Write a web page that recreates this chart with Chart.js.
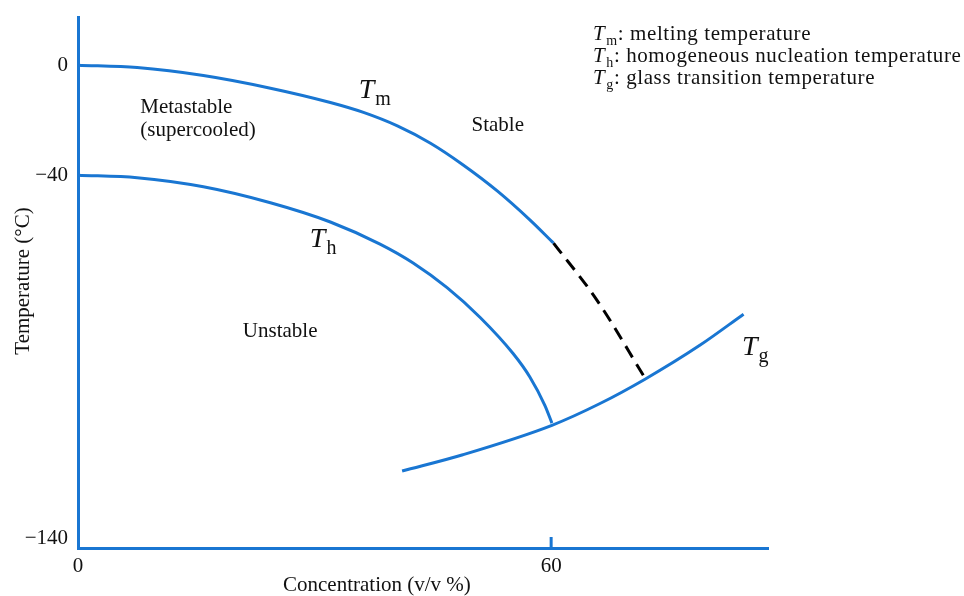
<!DOCTYPE html>
<html>
<head>
<meta charset="utf-8">
<title>State diagram</title>
<script src="https://cdn.jsdelivr.net/npm/chart.js@4/dist/chart.umd.min.js"></script>
<style>
  html, body { margin: 0; padding: 0; background: #fff; }
  #wrap { width: 964px; height: 596px; }
</style>
</head>
<body>
<div id="wrap"><canvas id="chart" width="964" height="596"></canvas></div>
<script>
(function () {
    'use strict';

    // values: concentration (v/v %) and temperature (°C)
    var tmConc = [0, 7.5, 15.9, 24.4, 32.0, 36.2, 40.5, 44.7, 48.8, 53.2, 57.3, 60.3];
    var tmTemp = [0, -0.9, -3.8, -8.4, -13.6, -17.2, -22.1, -28.4, -36.2, -44.4, -52.3, -58.7];

    var tmExtConc = [60.3, 65.8, 71.9];          // dashed continuation of Tm
    var tmExtTemp = [-58.7, -74.4, -95.9];

    var thConc = [0, 7.5, 15.9, 24.4, 32.0, 38.3, 42.5, 46.8, 51.0, 55.2, 57.3, 59.2, 60.1];
    var thTemp = [-40, -40.7, -43.2, -47.6, -52.9, -59.0, -64.2, -71.0, -79.2, -89.2, -95.6, -103.4, -108.3];

    var tgConc = [41.1, 48.8, 60.1, 66.2, 71.9, 78.9, 84.4];
    var tgTemp = [-121.5, -117.0, -108.9, -102.9, -96.2, -86.8, -78.3];

    var xTicks = [0, 60];
    var yTicks = [0, -40, -140];

    // region names and curve names, anchored in data units (left, baseline)
    var regionText = ['Metastable', '(supercooled)', 'Stable', 'Unstable'];
    var regionConc = [7.9, 7.9, 49.9, 20.9];
    var regionTemp = [-17.4, -25.8, -24.0, -84.6];

    var curveSub  = ['m', 'h', 'g'];
    var curveConc = [35.6, 29.4, 84.2];
    var curveTemp = [-12.0, -59.8, -89.6];

    var legendSub  = ['m', 'h', 'g'];
    var legendText = [': melting temperature', ': homogeneous nucleation temperature', ': glass transition temperature'];

    var BLUE  = '#1976d2';
    var SERIF = "'Liberation Serif', 'Times New Roman', serif";

    // the temperature axis of the sketch is not to scale: below -40 °C it is stretched
    var BREAK = -40, STRETCH = 3.63 / 2.75;
    function warp(v)   { return v >= BREAK ? v : BREAK + (v - BREAK) * STRETCH; }
    function unwarp(w) { return w >= BREAK ? w : BREAK + (w - BREAK) / STRETCH; }

    class BrokenScale extends Chart.LinearScale {
        configure() {
            super.configure();
            this._startValue = warp(this.min);
            this._endValue = warp(this.max);
            this._valueRange = this._endValue - this._startValue;
        }
        getPixelForValue(v) { return super.getPixelForValue(warp(v)); }
        getValueForPixel(p) { return unwarp(super.getValueForPixel(p)); }
    }
    BrokenScale.id = 'broken';
    BrokenScale.defaults = Chart.LinearScale.defaults;
    Chart.register(BrokenScale);

    function pts(xs, ys) {
        return xs.map(function (x, i) { return { x: x, y: ys[i] }; });
    }

    function minus(v) { return v < 0 ? '\u2212' + Math.abs(v) : String(v); }

    // italic T followed by a roman subscript; returns the x where the text ends
    function tSub(ctx, x, y, big, small, sub, drop) {
        ctx.font = 'italic ' + big + 'px ' + SERIF;
        ctx.fillText('T', x, y);
        var w = ctx.measureText('T').width;
        ctx.font = small + 'px ' + SERIF;
        ctx.fillText(sub, x + w + 1, y + drop);
        return x + w + 1 + ctx.measureText(sub).width;
    }

    var notes = {
        id: 'notes',
        afterDatasetsDraw: function (chart) {
            var ctx = chart.ctx, xs = chart.scales.x, ys = chart.scales.y;
            var area = chart.chartArea;
            ctx.save();
            ctx.fillStyle = '#111';
            ctx.textBaseline = 'alphabetic';
            ctx.textAlign = 'left';

            // small inner tick at 60 %
            ctx.strokeStyle = BLUE;
            ctx.lineWidth = 3;
            ctx.beginPath();
            ctx.moveTo(xs.getPixelForValue(60), area.bottom);
            ctx.lineTo(xs.getPixelForValue(60), area.bottom - 11);
            ctx.stroke();

            ctx.font = '21px ' + SERIF;
            regionText.forEach(function (t, i) {
                ctx.fillText(t, xs.getPixelForValue(regionConc[i]), ys.getPixelForValue(regionTemp[i]));
            });

            curveSub.forEach(function (s, i) {
                tSub(ctx, xs.getPixelForValue(curveConc[i]), ys.getPixelForValue(curveTemp[i]), 28, 20, s, 7);
            });

            // key in the top right corner
            ctx.letterSpacing = '0.6px';
            legendSub.forEach(function (s, i) {
                var y = 40 + i * 22;
                var x = tSub(ctx, 593, y, 21, 14, s, 5);
                ctx.font = '21px ' + SERIF;
                ctx.fillText(legendText[i], x, y);
            });
            ctx.letterSpacing = '0px';

            // axis titles
            ctx.font = '21px ' + SERIF;
            ctx.fillText('Concentration (v/v %)', 283, 591);
            ctx.translate(29, 281);
            ctx.rotate(-Math.PI / 2);
            ctx.textAlign = 'center';
            ctx.fillText('Temperature (\u00b0C)', 0, 0);
            ctx.restore();
        }
    };

    var lineStyle = {
        borderColor: BLUE,
        borderWidth: 3,
        pointRadius: 0,
        fill: false,
        cubicInterpolationMode: 'monotone'
    };

    new Chart(document.getElementById('chart'), {
        type: 'line',
        data: {
            datasets: [
                Object.assign({ label: 'Tm', data: pts(tmConc, tmTemp) }, lineStyle),
                Object.assign({ label: 'Th', data: pts(thConc, thTemp) }, lineStyle),
                Object.assign({ label: 'Tg', data: pts(tgConc, tgTemp) }, lineStyle),
                Object.assign({}, lineStyle, { label: 'Tm (extrapolated)', data: pts(tmExtConc, tmExtTemp),
                    borderColor: '#000', borderDash: [13, 8] })
            ]
        },
        options: {
            responsive: false,
            animation: false,
            layout: { padding: { left: 0, top: 17, right: 196, bottom: 0 } },
            plugins: { legend: { display: false }, tooltip: { enabled: false } },
            scales: {
                x: {
                    type: 'linear', min: 0, max: 87.5,
                    grid: { display: false, drawTicks: false },
                    border: { display: true, color: BLUE, width: 3 },
                    ticks: { color: '#111', padding: 6, maxRotation: 0, font: { family: SERIF, size: 21 } },
                    afterBuildTicks: function (s) { s.ticks = xTicks.map(function (v) { return { value: v }; }); },
                    afterFit: function (s) { s.height = 48; s.paddingLeft = 0; s.paddingRight = 0; }
                },
                y: {
                    type: 'broken', min: -142.7, max: 17.5,
                    grid: { display: false, drawTicks: false },
                    border: { display: true, color: BLUE, width: 3 },
                    ticks: { color: '#111', padding: 10, font: { family: SERIF, size: 21 }, callback: minus },
                    afterBuildTicks: function (s) { s.ticks = yTicks.map(function (v) { return { value: v }; }); },
                    afterFit: function (s) { s.width = 78; s.paddingTop = 0; s.paddingBottom = 0; }
                }
            }
        },
        plugins: [notes]
    });
})();
</script>
</body>
</html>
